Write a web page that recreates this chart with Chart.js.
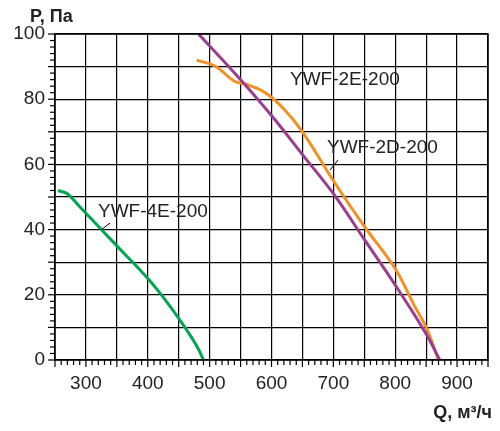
<!DOCTYPE html><html><head><meta charset="utf-8">
<script src="https://cdn.jsdelivr.net/npm/chart.js@4/dist/chart.umd.min.js"></script>
<style>body{margin:0;background:#fff}#w{width:500px;height:431px}</style></head><body><div id="w"><canvas id="c"></canvas></div>
<script>
const q2D=[482,550,600,650,700,750,800,850,872];
const p2D=[100,86,75,63,51,37,23,8,0];
const q2E=[479,510,540,560,590,620,650,700,750,800,830,850,870];
const p2E=[92,90,85.5,84.5,82,77,70,55,41,28,17,10,0];
const q4E=[255,270,290,320,350,400,430,460,480,490];
const p4E=[52,51,47,41,35,25,18,10,4,0];
const xTickLabels=[300,400,500,600,700,800,900];
const yTickLabels=[0,20,40,60,80,100];
const pts=(q,p)=>q.map((v,i)=>({x:v,y:p[i]}));
const ds=(q,p,c)=>({data:pts(q,p),borderColor:c,borderWidth:3,pointRadius:0,tension:0.4,fill:false});
const deco={id:'deco',afterDraw(ch){
 const c=ch.ctx,xs=ch.scales.x,ys=ch.scales.y,a=ch.chartArea;
 c.save();c.strokeStyle='#000';c.lineWidth=1.2;
 for(let v=250;v<=950;v+=10){const px=xs.getPixelForValue(v);c.beginPath();c.moveTo(px,a.bottom);c.lineTo(px,a.bottom+(v%50?5:7));c.stroke();}
 for(let v=0;v<=100;v+=2){const py=ys.getPixelForValue(v);c.beginPath();c.moveTo(a.left,py);c.lineTo(a.left-(v%10?5:7),py);c.stroke();}
 c.lineWidth=1.5;c.strokeRect(a.left,a.top,a.right-a.left,a.bottom-a.top);
 c.font='19px "Liberation Sans"';c.fillStyle='#222';c.textBaseline='middle';
 c.fillText('YWF-2E-200',290,80);c.fillText('YWF-2D-200',327,148);c.fillText('YWF-4E-200',98,212);
 c.lineWidth=1;c.beginPath();c.moveTo(338,160);c.lineTo(330,170);c.moveTo(110,223);c.lineTo(101,230);c.stroke();
 c.font='bold 18px "Liberation Sans"';c.fillStyle='#222';
 c.fillText('P, Па',30,17);c.textAlign='right';c.fillText('Q, м³/ч',492,413);
 c.restore();}};
new Chart(document.getElementById('c'),{type:'line',
 data:{datasets:[ds(q2D,p2D,'#9b3d8f'),ds(q2E,p2E,'#f39022'),ds(q4E,p4E,'#00a651')]},
 options:{responsive:true,maintainAspectRatio:false,animation:false,
 layout:{padding:{top:34,right:10,left:0,bottom:0}},
 plugins:{legend:{display:false},tooltip:{enabled:false}},
 scales:{
  x:{type:'linear',min:250,max:950,afterFit(s){s.height=71;},
   afterBuildTicks(s){s.ticks=[];for(let v=250;v<=950;v+=50)s.ticks.push({value:v});},
   grid:{color:'#000',lineWidth:1.2,drawTicks:false},border:{display:false},
   ticks:{maxRotation:0,minRotation:0,autoSkip:false,padding:12,color:'#222',font:{family:'Liberation Sans',size:19},callback:v=>xTickLabels.includes(v)?String(v):''}},
  y:{min:0,max:100,afterFit(s){s.width=55;},
   afterBuildTicks(s){s.ticks=[];for(let v=0;v<=100;v+=10)s.ticks.push({value:v});},
   grid:{color:'#000',lineWidth:1.2,drawTicks:false},border:{display:false},
   ticks:{padding:10,color:'#222',font:{family:'Liberation Sans',size:19},callback:v=>yTickLabels.includes(v)?String(v):''}}
 }},plugins:[deco]});
</script></body></html>
